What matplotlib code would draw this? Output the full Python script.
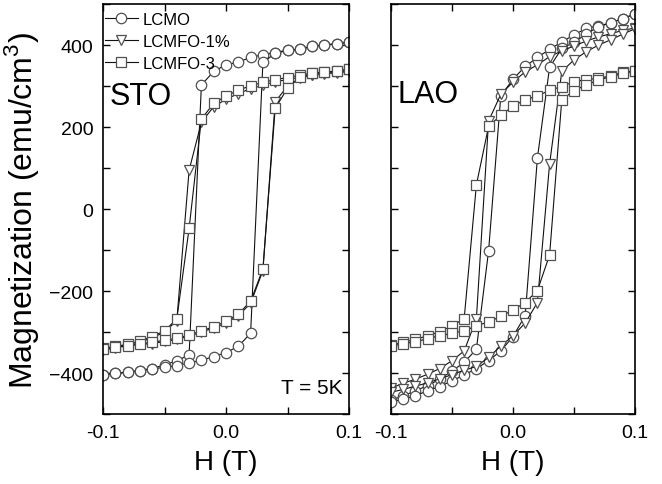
# -*- coding: utf-8 -*-

# M-H hysteresis loops at 5 K for films on STO and LAO substrates
import numpy as np
import matplotlib.pyplot as plt
from matplotlib.ticker import MultipleLocator

plt.rcParams['font.family'] = ['Liberation Sans', 'DejaVu Sans']
plt.rcParams['mathtext.fontset'] = 'custom'
plt.rcParams['mathtext.rm'] = 'Liberation Sans'

# field sweep, T (descending branch runs +0.1 -> -0.1, ascending the reverse)
h_down = [0.1, 0.09, 0.08, 0.07, 0.06, 0.05, 0.04, 0.03, 0.02, 0.01, 0.0,
          -0.01, -0.02, -0.03, -0.04, -0.05, -0.06, -0.07, -0.08, -0.09, -0.1]
h_up = h_down[::-1]

# STO substrate, magnetization in emu/cm^3
sto_lcmo_down = [407, 403, 401, 397, 390, 388, 382, 377, 370, 359, 352,
                 336, 303, -356, -370, -380, -389, -394, -398, -401, -404]
sto_lcmo_up = [-404, -401, -398, -394, -390, -386, -382, -375, -369, -360, -350,
               -335, -303, 358, 380, 387, 390, 397, 401, 403, 407]
sto_fo1_down = [336, 333, 330, 327, 322, 316, 311, 302, 294, 282, 268,
                250, 212, 95, -272, -300, -314, -324, -331, -336, -342]
sto_fo1_up = [-345, -338, -334, -330, -328, -323, -318, -310, -300, -290, -278,
              -260, -230, -150, 262, 300, 320, 328, 331, 334, 336]
sto_fo3_down = [341, 337, 334, 332, 327, 321, 316, 309, 301, 290, 276,
                258, 220, -47, -268, -297, -311, -322, -330, -335, -340]
sto_fo3_up = [-342, -337, -333, -329, -325, -320, -315, -307, -297, -287, -274,
              -256, -225, -146, 246, 295, 322, 331, 334, 337, 341]

# LAO substrate
lao_lcmo_down = [476, 465, 454, 447, 441, 425, 408, 390, 370, 348, 317,
                 276, -102, -342, -374, -395, -415, -431, -443, -456, -466]
lao_lcmo_up = [-470, -464, -456, -443, -433, -419, -405, -389, -370, -346, -311,
               -260, 124, 346, 392, 407, 427, 445, 454, 465, 476]
lao_fo1_down = [442, 436, 428, 420, 410, 398, 386, 372, 352, 335, 310,
                280, 215, -268, -346, -370, -389, -403, -415, -425, -437]
lao_fo1_up = [-447, -440, -432, -424, -414, -404, -393, -384, -362, -334, -309,
              -278, -228, 110, 336, 364, 384, 400, 413, 427, 440]
lao_fo3_down = [337, 334, 325, 319, 316, 311, 299, 290, 276, 267, 251,
                229, 202, 59, -267, -285, -299, -309, -318, -325, -332]
lao_fo3_up = [-335, -328, -324, -316, -309, -303, -297, -285, -275, -262, -246,
              -228, -199, -112, 267, 289, 303, 315, 323, 331, 337]

labels = ['LCMO', 'LCMFO-1%', 'LCMFO-3']
markers = ['o', 'v', 's']

sto = [(sto_lcmo_down, sto_lcmo_up), (sto_fo1_down, sto_fo1_up),
       (sto_fo3_down, sto_fo3_up)]
lao = [(lao_lcmo_down, lao_lcmo_up), (lao_fo1_down, lao_fo1_up),
       (lao_fo3_down, lao_fo3_up)]

fig = plt.figure(figsize=(6.62, 4.85), dpi=100)
ax1 = fig.add_axes([0.1556, 0.1443, 0.3716, 0.845])
ax2 = fig.add_axes([0.5906, 0.1443, 0.3686, 0.845], sharey=ax1)

for ax, loops in [(ax1, sto), (ax2, lao)]:
    for (m_down, m_up), mk, lab in zip(loops, markers, labels):
        style = dict(color='#111111', lw=0.8, marker=mk, ms=7.5,
                     mfc='white', mec='#505050', mew=0.9)
        ax.plot(h_down, m_down, label=lab, **style)
        ax.plot(h_up, m_up, **style)

    ax.set_xlim(-0.1, 0.1)
    ax.set_ylim(-500, 500)
    ax.xaxis.set_major_locator(MultipleLocator(0.1))
    ax.xaxis.set_minor_locator(MultipleLocator(0.05))
    ax.yaxis.set_major_locator(MultipleLocator(200))
    ax.yaxis.set_minor_locator(MultipleLocator(100))
    ax.tick_params(which='both', direction='in', top=True, right=True,
                   length=5, width=1, labelsize=14, pad=7)
    ax.xaxis.set_major_formatter(plt.FuncFormatter(lambda v, p: f'{v:.1f}'))
    for sp in ax.spines.values():
        sp.set_linewidth(1.2)
    ax.set_xlabel('H (T)', fontsize=20, labelpad=6)

ax2.tick_params(labelleft=False)

ax1.set_ylabel(r'Magnetization (emu/cm$^\mathregular{3}$)', fontsize=23,
               labelpad=6)

ax1.text(0.025, 0.775, 'STO', transform=ax1.transAxes, fontsize=22,
         va='center', ha='left')
ax2.text(0.025, 0.78, 'LAO', transform=ax2.transAxes, fontsize=22,
         va='center', ha='left')
ax1.text(0.975, 0.065, 'T = 5K', transform=ax1.transAxes, fontsize=15,
         va='center', ha='right')

ax1.legend(loc='upper left', frameon=False, fontsize=12, handlelength=2.0,
           handletextpad=0.3, labelspacing=0.42, borderaxespad=0.0,
           borderpad=0.1, bbox_to_anchor=(0.0, 0.985))

plt.savefig('out.png', dpi=100)
